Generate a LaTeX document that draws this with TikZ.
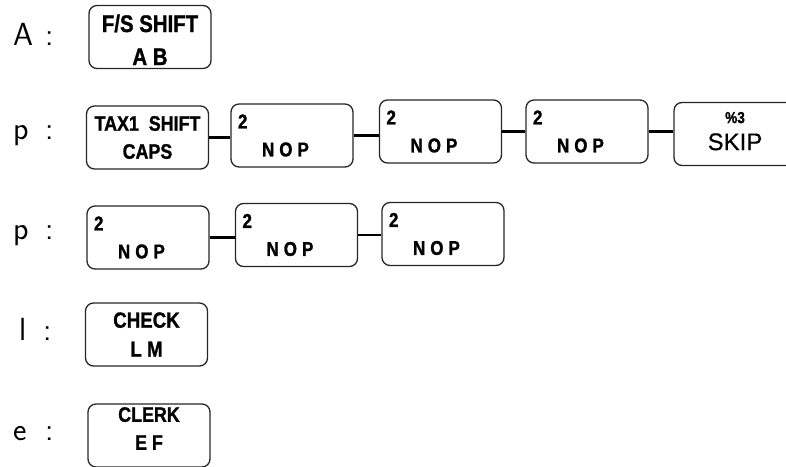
\documentclass[tikz,border=0pt]{standalone}
\usepackage{fontspec}
\usepackage{tikz}
\usetikzlibrary{positioning}
\newfontfamily\keyfont[FakeStretch=0.85, BoldFeatures={FakeBold=1.2}]{Liberation Sans}
\newfontfamily\plainsans[FakeBold=0.6]{Liberation Sans}
\newcommand{\nopkey}{\makebox[108pt][l]{2}\\\makebox[108pt][l]{\hspace{24pt}N\hspace{5pt}O\hspace{5pt}P}}
\newcommand{\lbl}[1]{\makebox[32pt][l]{#1}:}
\tikzset{
  tecla/.style={draw=black!85, line width=1.3pt, rounded corners=8pt, minimum width=122pt, minimum height=63pt, inner sep=0pt, align=center, font=\keyfont\bfseries\fontsize{21}{28}\selectfont},
  rotulo/.style={anchor=base west, inner sep=0pt, font=\sffamily\fontsize{32}{32}\selectfont},
  liga/.style={line width=2.6pt, black},
}
\begin{document}
\begin{tikzpicture}[x=1pt, y=-1pt]
  \useasboundingbox (0,0) rectangle (786,466);
  % linha A
  \node[rotulo] (lblA) at (13,45) {\lbl{A}};
  \node[tecla, font=\keyfont\bfseries\fontsize{24}{33}\selectfont] (fs) at (150,37) {\rule{0pt}{23pt}F/S SHIFT\\A B};

  % linha p (1)
  \node[rotulo] (lblP1) at (13,139) {\lbl{p}};
  \node[tecla] (tax) at (147.5,137.5) {TAX1\ \ SHIFT\\CAPS};
  \node[tecla, font=\keyfont\bfseries\fontsize{20}{28}\selectfont] (nopa) at (292,135.5) {\nopkey};
  \node[tecla, font=\keyfont\bfseries\fontsize{20}{28}\selectfont] (nopb) at (440.5,131.5) {\nopkey};
  \node[tecla, font=\keyfont\bfseries\fontsize{20}{28}\selectfont] (nopc) at (587,131.5) {\nopkey};
  \node[tecla, font=\plainsans\fontsize{24}{27}\selectfont] (skip) at (735,134) {{\keyfont\bfseries\fontsize{16}{16}\selectfont\%3}\\SKIP\rule[-6pt]{0pt}{6pt}};
  \draw[liga] (tax.east) -- (tax.east -| nopa.west);
  \draw[liga] (nopa.east) -- (nopa.east -| nopb.west);
  \draw[liga] (nopb.east) -- (nopb.east -| nopc.west);
  \draw[liga] (nopc.east) -- (nopc.east -| skip.west);

  % linha p (2)
  \node[rotulo] (lblP2) at (13,239) {\lbl{p}};
  \node[tecla, font=\keyfont\bfseries\fontsize{20}{28}\selectfont] (nopd) at (148,237.5) {\nopkey};
  \node[tecla, font=\keyfont\bfseries\fontsize{20}{28}\selectfont] (nope) at (296.5,235) {\nopkey};
  \node[tecla, font=\keyfont\bfseries\fontsize{20}{28}\selectfont] (nopf) at (443,234) {\nopkey};
  \draw[liga] (nopd.east) -- (nopd.east -| nope.west);
  \draw[liga] (nope.east) -- (nope.east -| nopf.west);

  % linha l
  \node[rotulo] (lblL) at (13,340) {\makebox[30pt][l]{\hspace{6pt}l}:};
  \node[tecla, font=\keyfont\bfseries\fontsize{22}{29}\selectfont] (chk) at (146.5,334.5) {CHECK\\L M};

  % linha e
  \node[rotulo] (lblE) at (13,440) {\lbl{e}};
  \node[tecla] (clk) at (149,435.5) {CLERK\\E F\rule[-14pt]{0pt}{14pt}};
\end{tikzpicture}
\end{document}
